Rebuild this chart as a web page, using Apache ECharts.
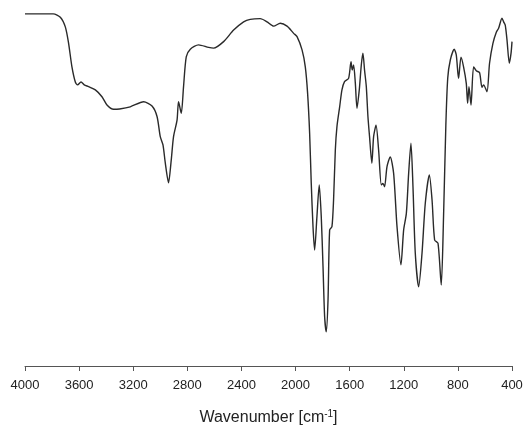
<!DOCTYPE html>
<html>
<head>
<meta charset="utf-8">
<script src="https://cdn.jsdelivr.net/npm/echarts@6/dist/echarts.min.js"></script>
<style>
  html, body { margin: 0; padding: 0; background: #fff; }
  #chart { width: 524px; height: 425px; }
</style>
</head>
<body>
<div id="chart"></div>
<script>
// wavenumber (cm-1) and transmittance (%)
const wavenumbers = [
  4000, 3791, 3739, 3702, 3678, 3653, 3628, 3611, 3586, 3562,
  3530, 3480, 3431, 3394, 3345, 3301, 3222, 3123, 3061, 3024,
  3000, 2980, 2963, 2939, 2919, 2902, 2876, 2865, 2845, 2828,
  2808, 2778, 2717, 2643, 2606, 2532, 2458, 2384, 2335, 2261,
  2211, 2162, 2113, 2063, 2014, 1989, 1952, 1928, 1911, 1896,
  1884, 1871, 1859, 1842, 1825, 1810, 1797, 1785, 1773, 1760,
  1748, 1731, 1719, 1706, 1694, 1674, 1657, 1638, 1608, 1590,
  1581, 1571, 1558, 1546, 1529, 1514, 1502, 1490, 1477, 1465,
  1453, 1436, 1423, 1405, 1386, 1366, 1354, 1342, 1324, 1300,
  1275, 1250, 1221, 1201, 1181, 1164, 1147, 1132, 1115, 1090,
  1065, 1041, 1011, 991, 972, 947, 923, 906, 889, 875,
  856, 827, 812, 795, 777, 758, 738, 728, 718, 703,
  684, 664, 640, 622, 610, 585, 566, 541, 516, 499,
  474, 462, 450, 437, 420, 407, 400
];
const transmittance = [
  97.8, 97.8, 96.9, 94.2, 89.7, 83.1, 78.9, 78.1, 78.9, 78.1,
  77.6, 76.7, 74.8, 72.5, 71.3, 71.4, 72.0, 73.4, 72.2, 69.3,
  63.7, 61.4, 56.4, 50.9, 57.2, 63.7, 68.3, 73.4, 70.2, 77.6,
  85.9, 88.0, 89.2, 88.5, 88.3, 90.1, 93.3, 95.6, 96.3, 96.5,
  95.6, 94.4, 95.2, 94.4, 92.4, 91.5, 87.8, 83.1, 75.8, 64.7,
  50.8, 38.7, 32.2, 41.5, 50.3, 41.5, 27.6, 13.7, 9.5, 18.3,
  37.8, 38.7, 46.1, 60.0, 66.5, 72.0, 76.7, 79.0, 79.9, 84.5,
  82.2, 83.6, 78.5, 71.6, 76.7, 83.6, 86.9, 82.2, 77.6, 69.3,
  63.7, 56.3, 63.7, 66.9, 60.0, 50.3, 50.7, 49.8, 55.4, 58.1,
  53.5, 38.7, 28.1, 37.8, 42.4, 53.5, 61.9, 49.8, 31.4, 22.0,
  31.4, 45.2, 53.1, 46.1, 35.0, 34.1, 22.5, 41.5, 66.9, 80.0,
  85.0, 88.0, 86.4, 79.9, 85.8, 83.1, 78.5, 73.0, 77.6, 72.5,
  83.1, 82.0, 81.5, 77.4, 78.1, 76.2, 84.1, 89.6, 92.7, 93.8,
  96.6, 95.6, 94.7, 90.6, 84.1, 86.9, 90.1
];
const xTicks = [400, 4000, 400]; // min, max, interval

const chart = echarts.init(document.getElementById('chart'));

const option = {
  animation: false,
  grid: {
    left: 25,
    right: 12,
    top: 6,
    bottom: 59,
    outerBoundsMode: 'none'
  },
  xAxis: {
    type: 'value',
    inverse: true,
    min: xTicks[0],
    max: xTicks[1],
    interval: xTicks[2],
    name: 'Wavenumber [cm{sup|-1}]',
    nameLocation: 'middle',
    nameGap: 43,
    nameTextStyle: {
      fontFamily: 'Liberation Sans',
      fontSize: 16,
      color: '#222',
      rich: {
        sup: {
          fontFamily: 'Liberation Sans',
          fontSize: 10,
          color: '#222',
          verticalAlign: 'top',
          padding: [0, 0, 8, 0]
        }
      }
    },
    axisLine: {
      lineStyle: { color: '#555', width: 1 }
    },
    axisTick: {
      inside: false,
      length: 5,
      lineStyle: { color: '#555' }
    },
    axisLabel: {
      margin: 13,
      fontFamily: 'Liberation Sans',
      fontSize: 13,
      color: '#222',
      formatter: v => String(v)
    },
    splitLine: { show: false }
  },
  yAxis: {
    type: 'value',
    min: 0,
    max: 100,
    show: false
  },
  series: [
    {
      type: 'line',
      data: wavenumbers.map((w, i) => [w, transmittance[i]]),
      showSymbol: false,
      smooth: 0.25,
      lineStyle: {
        color: '#2a2a2a',
        width: 1.4
      }
    }
  ]
};

chart.setOption(option);
</script>
</body>
</html>
